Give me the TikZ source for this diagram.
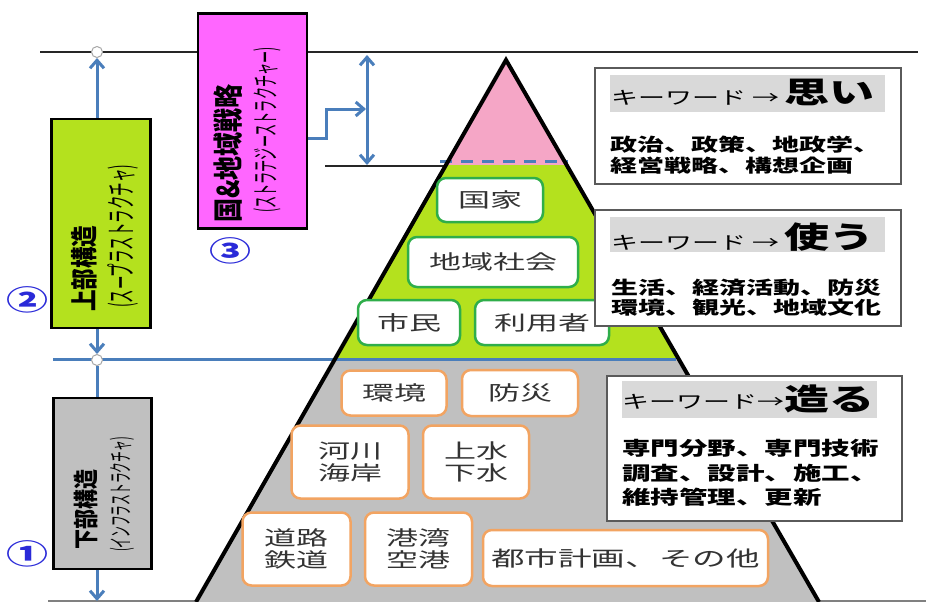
\documentclass[tikz,border=0pt]{standalone}
\usepackage{fontspec}
\newfontfamily\jp[FakeStretch=1.5]{Noto Sans CJK JP}
\newfontfamily\jpl[FakeStretch=1.6]{Noto Sans CJK JP}
\newfontfamily\jpn[FakeStretch=0.8]{Noto Sans CJK JP}
\newfontfamily\jph[FakeStretch=0.45]{Noto Sans CJK JP}
\usetikzlibrary{arrows.meta,calc}
\newcommand\fsz[1]{\fontsize{#1}{#1}\selectfont}
\definecolor{ygreen}{HTML}{B4E11E}
\definecolor{pinkreg}{HTML}{F5A6C6}
\definecolor{grayreg}{HTML}{C0C0C0}
\definecolor{magbox}{HTML}{FF66FF}
\definecolor{lineblue}{HTML}{4A7EBB}
\definecolor{boxgreen}{HTML}{2FAE4A}
\definecolor{boxorange}{HTML}{F2A462}
\definecolor{kwgray}{HTML}{5A5A5A}
\definecolor{bandgray}{HTML}{D9D9D9}
\definecolor{numblue}{HTML}{2A2AD8}
\definecolor{labtext}{HTML}{333333}
\begin{document}
\begin{tikzpicture}[x=1pt,y=-1pt,
  bl/.style={draw=lineblue,line width=3pt},
  tipend/.style={-{Straight Barb[length=8pt,width=14pt]}},
  lab/.style={fill=white,rounded corners=9pt,line width=2.5pt,inner sep=0pt,align=center,text=labtext,font=\jpl\fsz{20}},
  glab/.style={lab,draw=boxgreen},
  olab/.style={lab,draw=boxorange},
  kwbox/.style={draw=kwgray,line width=2pt,fill=white,inner sep=0pt},
  band/.style={fill=bandgray},
  vbox/.style={draw=black,line width=2.8pt,inner sep=0pt},
  rot/.style={rotate=90,anchor=west,inner sep=0pt},
  kwhead/.style={anchor=west,inner sep=0pt,font=\jp\fsz{18}},
  kwbig/.style={anchor=west,inner sep=0pt,font=\jp\bfseries\fsz{30}},
  kwline/.style={anchor=west,inner sep=0pt,font=\jp\bfseries\fsz{18}},
  cnum/.style={inner sep=0pt,text=numblue,font=\jp\bfseries\fsz{28}},
  ring/.style={circle,draw=gray!70,fill=white,line width=1pt,minimum size=11pt,inner sep=0pt}
]
\useasboundingbox (0,0) rectangle (926,602);

% top and bottom lines
\coordinate (tl) at (40,52);
\coordinate (tr) at (918,52);
\draw[line width=2pt,black!85] (tl) -- (tr);
\coordinate (bl0) at (48,601);
\coordinate (br0) at (926,601);
\draw[line width=1.2pt,gray] (bl0) -- (br0);

% pyramid fills
\coordinate (apex) at (506,60);
\coordinate (pl) at (196,602);
\coordinate (pr) at (819,602);
\begin{scope}
\clip (apex) -- (pr) -- (pl) -- cycle;
\fill[pinkreg] (0,0) rectangle (926,165);
\fill[ygreen] (0,165) rectangle (926,359);
\fill[grayreg] (0,359) rectangle (926,602);
\end{scope}

% dividing lines
\coordinate (dl) at (440,161);
\coordinate (dr) at (568,161);
\draw[lineblue,line width=3pt,dash pattern=on 12pt off 9pt] (dl) -- (dr);
\coordinate (hl) at (325,166);
\coordinate (hr) at (446,166);
\draw[line width=2pt,black!85] (hl) -- (hr);
\coordinate (gl) at (53,359);
\coordinate (gr) at (676,359);
\draw[lineblue,line width=3pt] (gl) -- (gr);

% pyramid edges
\draw[line width=4pt,line join=miter] (pl) -- (apex) -- (pr);

% left column boxes
\node[vbox,fill=ygreen,minimum width=99pt,minimum height=209pt] (sup) at (101,223.5) {};
\node[rot,font=\jpn\bfseries\fsz{27}] (supt1) at (84,312) {上部構造};
\node[rot,font=\jph\fsz{30}] (supt2) at (123,308) {(スープラストラクチャ)};

\node[vbox,fill=grayreg,minimum width=98pt,minimum height=171pt] (inf) at (102.5,483.5) {};
\node[rot,font=\jpn\bfseries\fsz{25}] (inft1) at (86,550) {下部構造};
\node[rot,font=\jph\fsz{24}] (inft2) at (122,552) {(インフラストラクチャ)};

\node[ring] (c1) at (97,52) {};
\node[ring] (c2) at (97,360) {};
\coordinate (infend) at (97,601);
\draw[bl,tipend] (sup.north -| c1) -- (c1.south);
\draw[bl,tipend] (sup.south -| c2) -- (c2.north);
\draw[bl] (c2.south) -- (inf.north -| c2);
\draw[bl,tipend] (inf.south -| c2) -- (infend);

% magenta box
\node[vbox,fill=magbox,minimum width=109pt,minimum height=215pt] (mag) at (252.5,121) {};
\node[rot,font=\jpn\bfseries\fsz{30}] (magt1) at (228,223) {国\&地域戦略};
\node[rot,font=\jph\fsz{27}] (magt2) at (267,213) {(ストラテジーストラクチャー)};

% double arrow and connector
\coordinate (vt) at (367,55);
\coordinate (vb) at (367,165);
\coordinate (vm) at (366,109);
\draw[bl,{Straight Barb[length=8pt,width=14pt]}-{Straight Barb[length=8pt,width=14pt]}] (vt) -- (vb);
\coordinate (ms) at ($(mag.east)+(0,17)$);
\draw[bl,tipend] (ms) -- ++(18,0) |- (vm);

% circled numbers
\node[cnum] (n2) at (27,300) {②};
\node[cnum] (n1) at (27,554) {①};
\node[cnum] (n3) at (230,251) {③};

% green labels
\node[glab,minimum width=106pt,minimum height=44pt] (kokka) at (490,200) {国家};
\node[glab,minimum width=170pt,minimum height=50pt] (chiiki) at (493,262) {地域社会};
\node[glab,minimum width=102pt,minimum height=45pt] (shimin) at (409,322.5) {市民};
\node[glab,minimum width=134pt,minimum height=45pt] (riyo) at (542,322.5) {利用者};

% orange labels
\node[olab,minimum width=105pt,minimum height=45pt] (kankyo) at (394,393) {環境};
\node[olab,minimum width=116pt,minimum height=46pt] (bosai) at (520,393) {防災};
\node[olab,minimum width=117pt,minimum height=73pt,font=\jpl\fontsize{20}{22}\selectfont] (kasen) at (350,462) {河川\\海岸};
\node[olab,minimum width=106pt,minimum height=73pt,font=\jpl\fontsize{20}{22}\selectfont] (josui) at (476,462) {上水\\下水};
\node[olab,minimum width=108pt,minimum height=73pt,font=\jpl\fontsize{20}{22}\selectfont] (doro) at (296.5,549) {道路\\鉄道};
\node[olab,minimum width=107pt,minimum height=73pt,font=\jpl\fontsize{20}{22}\selectfont] (kowan) at (418.5,549) {港湾\\空港};
\node[olab,minimum width=285pt,minimum height=56pt,font=\jpl\fsz{21}] (toshi) at (625.5,558) {都市計画、その他};

% keyword box 1
\node[kwbox,minimum width=306pt,minimum height=116pt] (kw1) at (748,126) {};
\fill[band] (610,75) rectangle (885,112);
\node[kwhead] (kw1h) at (611,98) {キーワード →};
\node[kwbig] (kw1b) at (784,92) {思い};
\node[kwline] (kw1l1) at (610,145) {政治、政策、地政学、};
\node[kwline] (kw1l2) at (610,166) {経営戦略、構想企画};

% keyword box 2
\node[kwbox,minimum width=306pt,minimum height=116pt] (kw2) at (748,268) {};
\fill[band] (610,217) rectangle (885,252);
\node[kwhead] (kw2h) at (611,243) {キーワード →};
\node[kwbig] (kw2b) at (784,237) {使う};
\node[kwline] (kw2l1) at (611,288) {生活、経済活動、防災};
\node[kwline] (kw2l2) at (611,308) {環境、観光、地域文化};

% keyword box 3
\node[kwbox,minimum width=295pt,minimum height=145pt] (kw3) at (754.5,448.5) {};
\fill[band] (622,381) rectangle (877,418);
\node[kwhead] (kw3h) at (622,402) {キーワード→};
\node[kwbig] (kw3b) at (784,399) {造る};
\node[kwline,font=\jp\bfseries\fsz{19}] (kw3l1) at (622,448) {専門分野、専門技術};
\node[kwline,font=\jp\bfseries\fsz{19}] (kw3l2) at (622,473) {調査、設計、施工、};
\node[kwline,font=\jp\bfseries\fsz{19}] (kw3l3) at (622,497) {維持管理、更新};
\end{tikzpicture}
\end{document}
